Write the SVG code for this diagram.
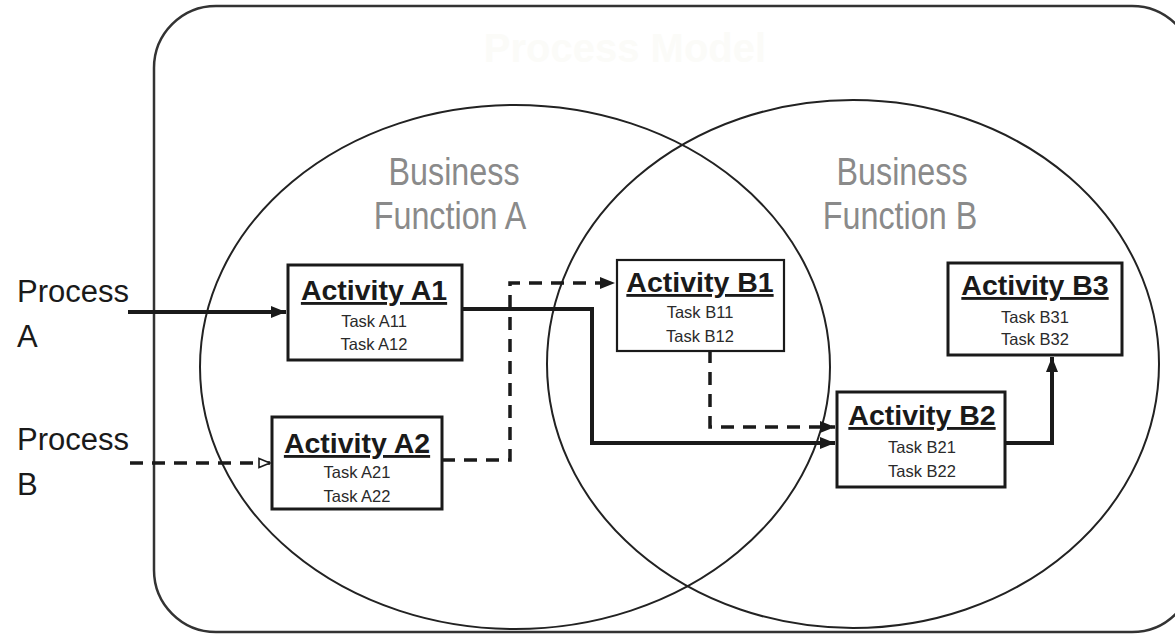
<svg xmlns="http://www.w3.org/2000/svg" width="1175" height="636" viewBox="0 0 1175 636">
<style>
.frame{fill:#fff;stroke:#333;stroke-width:2.5}
.set{fill:none;stroke:#222;stroke-width:2}
.box{fill:#fff;stroke:#1a1a1a;stroke-width:3}
.title{font-family:"Liberation Sans",Arial,sans-serif;font-weight:bold;font-size:28.5px;fill:#1a1a1a;text-anchor:middle;text-decoration:underline}
.task{font-family:"Liberation Sans",Arial,sans-serif;font-size:16.5px;fill:#2a2a2a;text-anchor:middle}
.fn{font-family:"Liberation Sans",Arial,sans-serif;font-size:34px;fill:#8a8a8a;text-anchor:middle}
.proc{font-family:"Liberation Sans",Arial,sans-serif;font-size:31px;fill:#1a1a1a}
.solid{fill:none;stroke:#1a1a1a;stroke-width:4}
.dash{fill:none;stroke:#1a1a1a;stroke-width:3.5;stroke-dasharray:13 9}
</style>
<defs>
<marker id="arr" markerUnits="userSpaceOnUse" markerWidth="16" markerHeight="14" refX="15" refY="7" orient="auto">
<path d="M0,1 L15,7 L0,13 Z" fill="#1a1a1a"/>
</marker>
<marker id="arrOpen" markerUnits="userSpaceOnUse" markerWidth="14" markerHeight="12" refX="12" refY="6" orient="auto">
<path d="M1,1.5 L12,6 L1,10.5 Z" fill="#fff" stroke="#1a1a1a" stroke-width="1.6"/>
</marker>
</defs>

<g id="process-model">
<rect class="frame" x="154" y="6" width="1040" height="626" rx="62" ry="62"/>
<text x="625" y="62" font-family="Liberation Sans, Arial, sans-serif" font-weight="bold" font-size="40" fill="#fbfbf8" text-anchor="middle">Process Model</text>
</g>

<g id="business-function-a">
<ellipse class="set" cx="515" cy="367" rx="315" ry="262"/>
<text class="fn" transform="translate(454,185) scale(0.95,1.15)">Business</text>
<text class="fn" transform="translate(450,229) scale(0.95,1.15)">Function A</text>
</g>

<g id="business-function-b">
<ellipse class="set" cx="853" cy="364" rx="306" ry="264"/>
<text class="fn" transform="translate(902,185) scale(0.95,1.15)">Business</text>
<text class="fn" transform="translate(900,229) scale(0.95,1.15)">Function B</text>
</g>

<g id="process-a">
<text class="proc" x="17" y="302">Process</text>
<text class="proc" x="17" y="347">A</text>
</g>

<g id="process-b">
<text class="proc" x="17" y="450">Process</text>
<text class="proc" x="17" y="495">B</text>
</g>

<g id="connectors">
<path class="solid" d="M128,312 L286,312" marker-end="url(#arr)"/>
<path class="dash" d="M130,463 L270,463" marker-end="url(#arrOpen)"/>
<path class="dash" d="M442,460 L510,460 L510,283 L615,283" marker-end="url(#arr)"/>
<path class="solid" d="M462,309 L592,309 L592,443 L835,443" marker-end="url(#arr)"/>
<path class="dash" d="M710,350 L710,427 L835,427" marker-end="url(#arr)"/>
<path class="solid" d="M1005,443 L1052,443 L1052,357" marker-end="url(#arr)"/>
</g>

<g id="activity-a1">
<rect class="box" x="288" y="265" width="174" height="95"/>
<text class="title" x="374" y="300">Activity A1</text>
<text class="task" x="374" y="327">Task A11</text>
<text class="task" x="374" y="350">Task A12</text>
</g>

<g id="activity-a2">
<rect class="box" x="272" y="417" width="170" height="92"/>
<text class="title" x="357" y="453">Activity A2</text>
<text class="task" x="357" y="478">Task A21</text>
<text class="task" x="357" y="502">Task A22</text>
</g>

<g id="activity-b1">
<rect class="box" x="617" y="260" width="167" height="91" style="stroke-width:2.2"/>
<text class="title" x="700" y="292">Activity B1</text>
<text class="task" x="700" y="318">Task B11</text>
<text class="task" x="700" y="342">Task B12</text>
</g>

<g id="activity-b2">
<rect class="box" x="837" y="392" width="168" height="95"/>
<text class="title" x="922" y="425">Activity B2</text>
<text class="task" x="922" y="453">Task B21</text>
<text class="task" x="922" y="477">Task B22</text>
</g>

<g id="activity-b3">
<rect class="box" x="948" y="263" width="174" height="92"/>
<text class="title" x="1035" y="295">Activity B3</text>
<text class="task" x="1035" y="323">Task B31</text>
<text class="task" x="1035" y="345">Task B32</text>
</g>
</svg>
